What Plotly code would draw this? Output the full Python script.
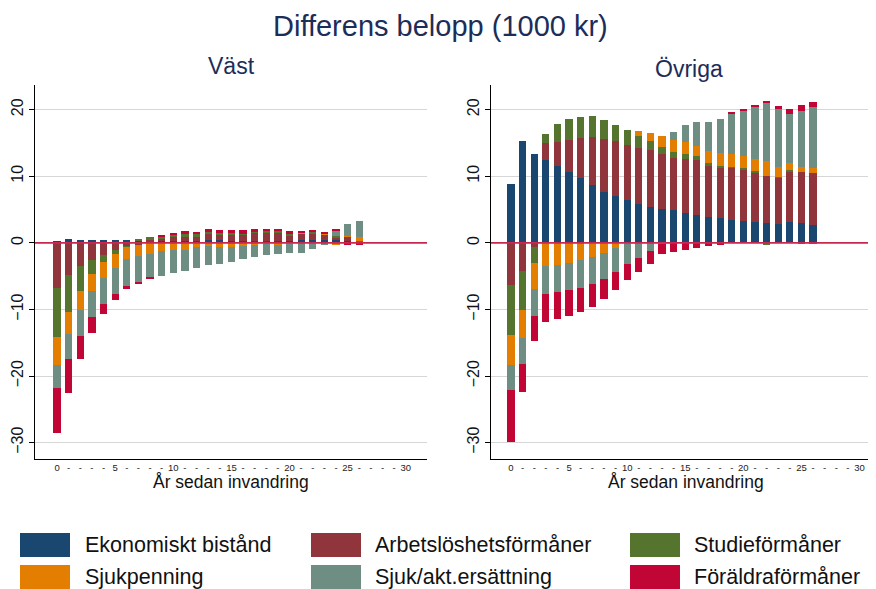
import plotly.graph_objects as go

years = list(range(27))

series_names = ["Ekonomiskt bistånd", "Arbetslöshetsförmåner", "Studieförmåner",
                "Sjukpenning", "Sjuk/akt.ersättning", "Föräldraförmåner"]
series_colors = ["#1a476f", "#90353b", "#55752f", "#e37e00", "#6e8e84", "#c10534"]

# Väst (left panel)
vast_eko = [0.15, 0.55, 0.4, 0.4, 0.4, 0.4, 0.4, 0.3, 0.25, 0.25, 0.25, 0.25, 0.25, 0.4, 0.4,
            0.3, 0.3, 0.3, 0.3, 0.3, 0.3, 0.4, 0.4, 0.4, 0.4, 0.25, 0.15]
vast_arb = [-6.75, -4.85, -3.45, -2.6, -1.85, -1.1, -0.5, -0.25, 0.2, 0.45, 0.75, 0.65, 0.65, 0.9, 0.9,
            1.0, 1.0, 1.2, 1.3, 1.3, 0.8, 1.0, 1.0, 0.85, 0.4, 0.65, 0.1]
vast_stud = [-7.35, -5.5, -3.8, -2.1, -1.05, -0.6, -0.15, 0.3, 0.45, 0.2, 0.25, 0.4, 0.4, 0.35, 0.2,
             0.2, 0.1, 0.2, 0.15, 0.2, 0.3, 0.05, 0.2, -0.1, 0.2, 0.05, 0.05]
vast_sjukp = [-4.25, -3.35, -2.85, -2.55, -2.3, -2.0, -1.75, -1.75, -1.6, -1.25, -1.1, -1.0, -0.65, -0.5, -0.65,
              -0.55, -0.45, -0.35, -0.2, -0.25, -0.2, 0.1, -0.05, 0.15, -0.35, 0.15, 0.65]
vast_sjukakt = [-3.4, -3.75, -3.9, -3.95, -4.0, -3.95, -4.1, -3.9, -3.65, -3.75, -3.4, -3.25, -3.15, -2.85, -2.5,
                -2.3, -2.0, -1.75, -1.65, -1.4, -1.3, -1.5, -0.8, -0.25, 0.8, 1.75, 2.35]
vast_foraldra = [-6.85, -5.05, -3.45, -2.3, -1.45, -0.95, -0.5, -0.25, -0.25, 0.25, 0.25, 0.45, 0.3, 0.4, 0.4,
                 0.5, 0.5, 0.35, 0.3, 0.25, 0.35, 0.25, 0.3, 0.2, 0.25, -0.25, -0.3]

# Övriga (right panel)
ovr_eko = [8.9, 15.25, 13.3, 12.45, 11.55, 10.65, 9.75, 8.65, 7.65, 7.05, 6.4, 5.85, 5.35, 5.05, 4.9,
           4.45, 4.15, 3.85, 3.75, 3.45, 3.25, 3.15, 2.95, 2.8, 3.1, 2.95, 2.65]
ovr_arb = [-6.35, -4.25, -0.6, 2.55, 3.6, 4.8, 6.0, 7.2, 7.9, 8.2, 8.25, 8.4, 8.55, 8.25, 7.8,
           8.1, 8.25, 7.7, 7.5, 7.8, 7.8, 7.35, 7.05, 7.0, 7.65, 7.7, 7.9]
ovr_stud = [-7.5, -5.85, -2.4, 1.35, 2.75, 3.1, 3.1, 3.15, 2.85, 2.45, 2.25, 1.8, 1.35, 1.05, 0.9,
            0.75, 0.6, 0.4, 0.3, 0.1, 0.15, 0.25, -0.25, 0.05, 0.15, -0.2, -0.2]
ovr_sjukp = [-4.5, -4.15, -3.95, -3.45, -3.3, -3.0, -2.55, -2.15, -1.55, -0.75, -0.15, 0.7, 1.25, 1.65, 1.8,
             1.85, 1.55, 1.8, 1.9, 2.0, 1.85, 1.8, 2.25, 1.5, 1.05, 0.7, 0.7]
ovr_sjukakt = [-3.75, -3.95, -4.05, -4.2, -4.1, -4.1, -4.25, -4.0, -3.9, -3.65, -3.0, -2.3, -1.2, -0.1, 1.25,
               2.55, 3.55, 4.35, 5.1, 6.0, 6.75, 7.85, 8.85, 8.7, 7.35, 8.5, 9.2]
ovr_foraldra = [-7.85, -4.15, -3.7, -4.2, -4.05, -3.85, -3.55, -3.45, -2.95, -2.7, -2.45, -2.1, -1.95, -1.55, -1.35,
                -1.05, -0.75, -0.45, -0.3, 0.25, 0.25, 0.25, 0.25, 0.45, 0.75, 0.8, 0.65]

panel_titles = ["Väst", "Övriga"]
x_title = "År sedan invandring"
main_title = "Differens belopp (1000 kr)"
x_tickvals = list(range(31))
x_ticktext = [str(v) if v % 5 == 0 else "-" for v in x_tickvals]
y_tickvals = [-30, -20, -10, 0, 10, 20]

vast = [vast_eko, vast_arb, vast_stud, vast_sjukp, vast_sjukakt, vast_foraldra]
ovr = [ovr_eko, ovr_arb, ovr_stud, ovr_sjukp, ovr_sjukakt, ovr_foraldra]

FONT = "Liberation Sans, Arial, sans-serif"
NAVY = "#1c2d59"

fig = go.Figure()
for vals, ax in ((vast, ("x", "y")), (ovr, ("x2", "y2"))):
    for name, color, v in zip(series_names, series_colors, vals):
        fig.add_trace(go.Bar(x=years, y=v, name=name, marker_color=color,
                             marker_line_width=0, width=0.62,
                             xaxis=ax[0], yaxis=ax[1], showlegend=False))

W, H = 876, 589
OFF = 8  # page body margin
def px(x):
    return (x - OFF) / W
def py(y):
    return 1 - (y - OFF) / H

xcommon = dict(tickvals=x_tickvals, ticktext=x_ticktext, ticks="", showgrid=False,
               showline=True, linecolor="#000", linewidth=1, zeroline=False,
               tickfont=dict(size=9.5, color="#222", family=FONT))
ycommon = dict(range=[-32.45, 23.7], tickvals=y_tickvals, tickangle=-90, ticks="outside",
               ticklen=5, tickcolor="#000", showline=True, linecolor="#000", linewidth=1,
               showgrid=True, gridcolor="#d6d6d6", gridwidth=1, zeroline=False,
               tickfont=dict(size=16, color="#111", family=FONT),
               domain=[py(459), py(85)])

fig.update_layout(
    width=W, height=H, barmode="relative", bargap=0,
    plot_bgcolor="white", paper_bgcolor="white",
    margin=dict(l=0, r=0, t=0, b=0),
    font=dict(family=FONT),
    xaxis=dict(domain=[px(35), px(427)], range=[-1.9, 31.83], anchor="y", **xcommon),
    yaxis=dict(anchor="x", **ycommon),
    xaxis2=dict(domain=[px(491), px(870)], range=[-1.72, 30.9], anchor="y2", **xcommon),
    yaxis2=dict(anchor="x2", **ycommon),
)

shapes = []
for xr, yr in (("x", "y"), ("x2", "y2")):
    shapes.append(dict(type="line", xref=f"{xr} domain", yref=yr, x0=0, x1=1, y0=0, y1=0,
                       line=dict(color="#c8284f", width=1.6), layer="above"))

annotations = [
    dict(text=main_title, x=px(440), y=py(8), xref="paper", yref="paper", showarrow=False,
         xanchor="center", yanchor="top", font=dict(size=29, color=NAVY, family=FONT)),
    dict(text=panel_titles[0], x=px(231), y=py(66), xref="paper", yref="paper", showarrow=False,
         xanchor="center", yanchor="middle", font=dict(size=23, color=NAVY, family=FONT)),
    dict(text=panel_titles[1], x=px(689), y=py(69), xref="paper", yref="paper", showarrow=False,
         xanchor="center", yanchor="middle", font=dict(size=23, color=NAVY, family=FONT)),
    dict(text=x_title, x=px(231), y=py(482), xref="paper", yref="paper", showarrow=False,
         xanchor="center", yanchor="middle", font=dict(size=17.5, color="#111", family=FONT)),
    dict(text=x_title, x=px(686), y=py(482), xref="paper", yref="paper", showarrow=False,
         xanchor="center", yanchor="middle", font=dict(size=17.5, color="#111", family=FONT)),
]

# manual legend (3 columns, 2 rows)
col_sq = [(20, 70, 83), (311, 361, 373), (630, 680, 692)]
row_y = [(533, 557), (565, 589)]
for i, (name, color) in enumerate(zip(series_names, series_colors)):
    r, c = divmod(i, 3)
    x0, x1, tx = col_sq[c]
    y0, y1 = row_y[r]
    shapes.append(dict(type="rect", xref="paper", yref="paper", x0=px(x0), x1=px(x1),
                       y0=py(y1), y1=py(y0), fillcolor=color, line=dict(width=0)))
    annotations.append(dict(text=name, x=px(tx), y=py((y0 + y1) / 2), xref="paper", yref="paper",
                            showarrow=False, xanchor="left", yanchor="middle",
                            font=dict(size=21.5, color="#111", family=FONT)))

fig.update_layout(shapes=shapes, annotations=annotations)
fig.write_html("out.html")
